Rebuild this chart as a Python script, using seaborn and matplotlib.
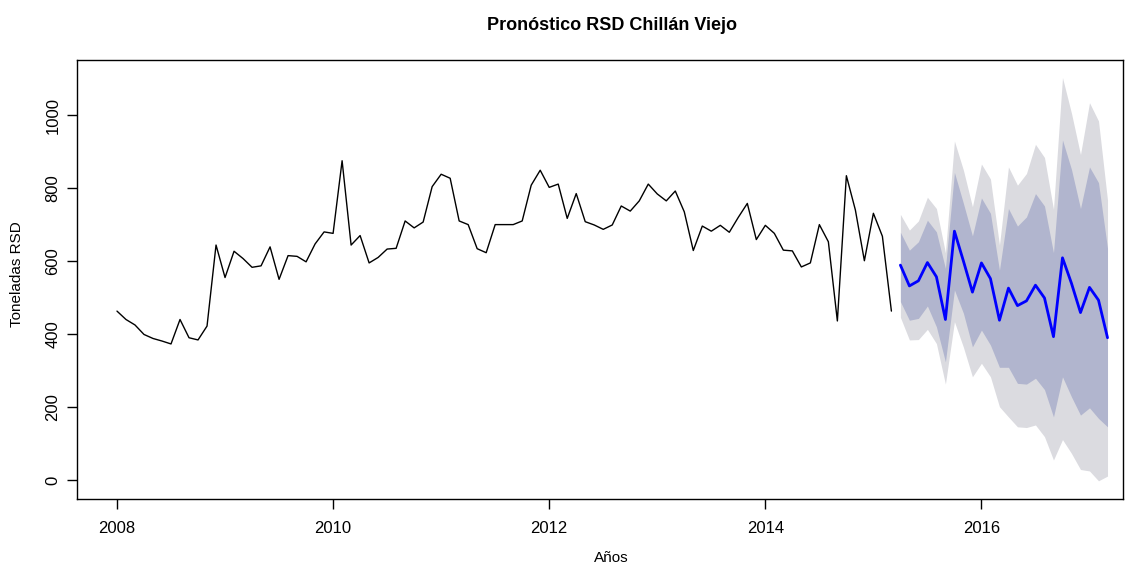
import matplotlib
matplotlib.use("Agg")
import matplotlib.pyplot as plt
import numpy as np
import pandas as pd
import seaborn as sns

# observed monthly series, Jan 2008 - Mar 2015
observed = [463, 440, 425, 399, 388, 381, 373, 440, 390, 384, 422, 644,
            555, 627, 607, 583, 587, 639, 550, 615, 613, 598, 647, 680,
            676, 875, 644, 670, 595, 610, 633, 635, 710, 691, 707, 804,
            838, 827, 710, 700, 634, 623, 700, 700, 700, 710, 808, 849,
            802, 811, 717, 785, 708, 699, 687, 699, 751, 737, 765, 811,
            784, 765, 792, 735, 629, 696, 682, 698, 679, 720, 758, 659,
            698, 676, 630, 628, 584, 595, 700, 653, 436, 834, 740, 601,
            731, 668, 463]

# forecast, Apr 2015 - Mar 2017
fc_mean = [589, 532, 546, 596, 557, 440, 682, 600, 515, 595, 552, 438,
           526, 478, 491, 534, 499, 393, 609, 539, 459, 528, 493, 390]
hi80 = [679, 630, 653, 712, 680, 580, 843, 758, 669, 773, 731, 575,
        744, 696, 721, 785, 751, 623, 932, 851, 744, 858, 815, 635]
lo80 = [489, 438, 443, 477, 420, 324, 521, 457, 365, 411, 370, 309,
        309, 265, 263, 279, 248, 173, 283, 228, 178, 198, 169, 146]
hi95 = [728, 685, 710, 775, 744, 623, 929, 849, 749, 866, 825, 644,
        858, 808, 840, 920, 884, 742, 1103, 1005, 892, 1034, 984, 767]
lo95 = [446, 384, 385, 413, 374, 263, 434, 364, 283, 320, 283, 201,
        173, 146, 144, 151, 119, 55, 111, 73, 29, 25, -2, 11]

start_year = 2008
obs_df = pd.DataFrame({"t": start_year + np.arange(len(observed)) / 12,
                       "y": observed})
fc_t = start_year + (len(observed) + np.arange(len(fc_mean))) / 12
fc_df = pd.DataFrame({"t": fc_t, "y": fc_mean, "lo80": lo80, "hi80": hi80,
                      "lo95": lo95, "hi95": hi95})

sns.set_style("ticks")
plt.rcParams['font.family'] = ['Liberation Sans', 'DejaVu Sans']
plt.rcParams['text.color'] = 'black'
plt.rcParams['xtick.color'] = 'black'
plt.rcParams['ytick.color'] = 'black'
plt.rcParams['axes.labelcolor'] = 'black'

fig = plt.figure(figsize=(11.37, 5.67), dpi=100)
ax = fig.add_axes([77 / 1137, 68.3 / 567, 1046 / 1137, 438.7 / 567])

ax.fill_between(fc_df["t"], fc_df["lo95"], fc_df["hi95"], color="#DBDBE0", lw=0)
ax.fill_between(fc_df["t"], fc_df["lo80"], fc_df["hi80"], color="#B1B5CE", lw=0)
sns.lineplot(data=obs_df, x="t", y="y", ax=ax, color="black", lw=1)
sns.lineplot(data=fc_df, x="t", y="y", ax=ax, color="#0000FF", lw=2)

ax.set_xlim(2007.63, 2017.31)
ax.set_ylim(-51, 1151)
ax.set_xticks([2008, 2010, 2012, 2014, 2016])
ax.set_yticks([0, 200, 400, 600, 800, 1000])
ax.tick_params(axis="both", length=7, width=1, labelsize=12)
ax.tick_params(axis="x", pad=9)
ax.tick_params(axis="y", pad=5)
plt.setp(ax.get_yticklabels(), rotation=90, va="center")
for s in ax.spines.values():
    s.set_color("black")
    s.set_linewidth(1)

ax.set_xlabel("Años", fontsize=11)
ax.xaxis.set_label_coords(0.5105, -0.12)
ax.set_ylabel("Toneladas RSD", fontsize=11)
ax.yaxis.set_label_coords(-0.051, 0.512)
fig.text(612 / 1137, 1 - 25 / 567, "Pronóstico RSD Chillán Viejo",
         fontsize=13, fontweight="bold", ha="center", va="center")

fig.savefig("out.png", dpi=100)
